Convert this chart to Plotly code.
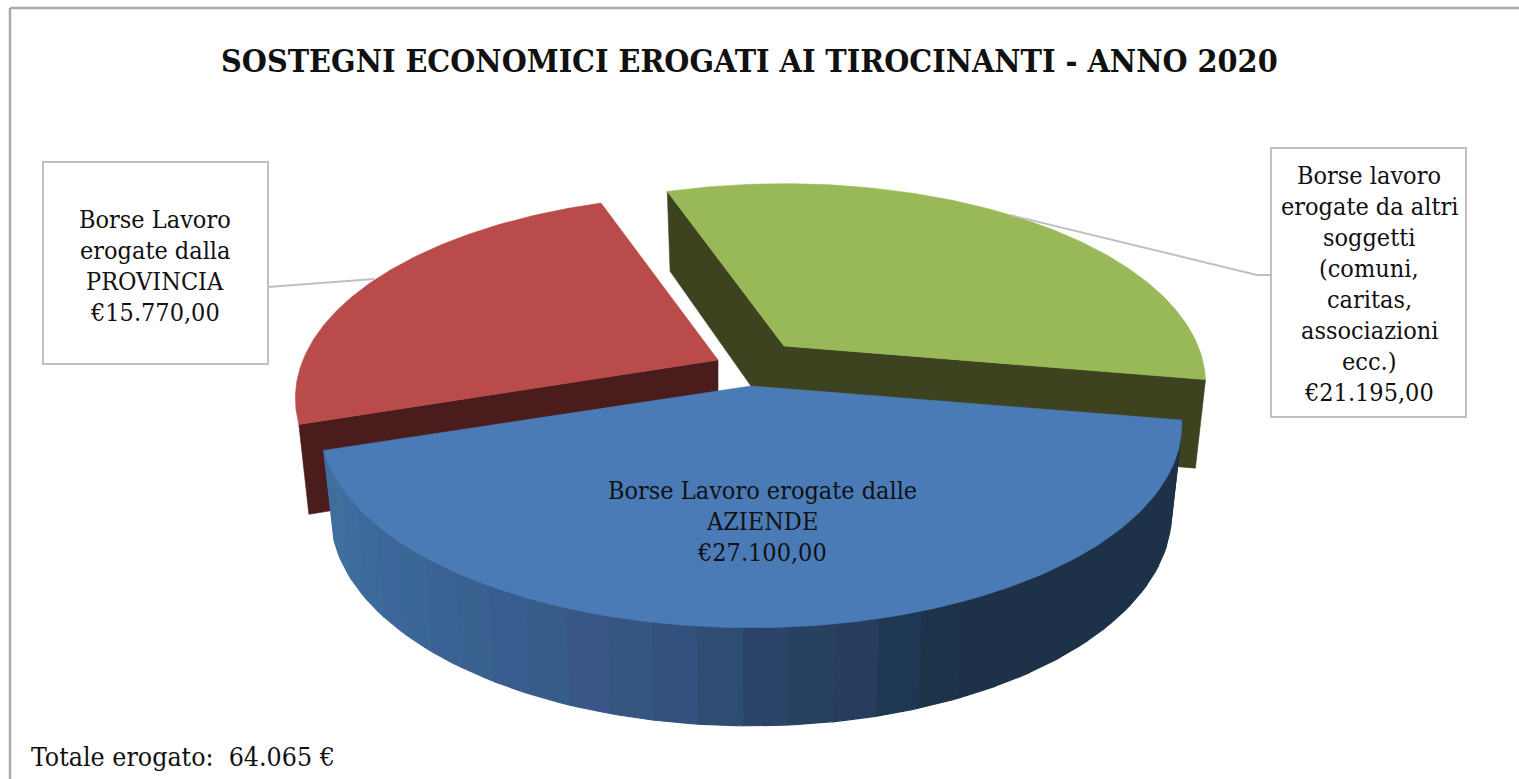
import numpy as np
import plotly.graph_objects as go

# data
categories = ['AZIENDE', 'PROVINCIA', 'altri soggetti']
values = [27100, 15770, 21195]
label_lines = [
    ['Borse Lavoro erogate dalle', 'AZIENDE'],
    ['Borse Lavoro', 'erogate dalla', 'PROVINCIA'],
    ['Borse lavoro', 'erogate da altri', 'soggetti', '(comuni,', 'caritas,',
     'associazioni', 'ecc.)'],
]
title_text = 'SOSTEGNI ECONOMICI EROGATI AI TIROCINANTI - ANNO 2020'
total_label = 'Totale erogato:'

top_colors = ['#4a7bb6', '#b94c4b', '#99b958']
cut_colors = ['#1d3248', '#4a1c1b', '#3c431e']

# side shading of the big slice, by screen x
shade_x = [320, 400, 500, 600, 700, 770, 850, 900, 950, 1200]
shade_rgb = [(64, 112, 160), (60, 103, 153), (56, 94, 142), (55, 88, 134),
             (49, 80, 122), (43, 68, 104), (38, 63, 94), (31, 57, 84),
             (29, 50, 72), (29, 50, 72)]

START_ANGLE = 9.7
PERSP = 0.189
SERIF = 'DejaVu Serif Condensed'
TEXT_SIZE = 25
LINE_GAP = 31


def euro(value):
    return '€' + f'{value:,.2f}'.replace(',', '#').replace('.', ',').replace('#', '.')


def rim(t_deg, cx, cy, rx, ry):
    t = np.radians(t_deg)
    px, py = np.cos(t), np.sin(t)
    s = 1 / (1 - PERSP * py)
    return cx + rx * px * s, cy + ry * py * s


def lower_rim(t_deg, cx, cy, rx, ry):
    return rim(t_deg, cx, cy + 87, rx * 0.976, ry + 9)


def poly(fig, xs, ys, color, width=0.6):
    fig.add_trace(go.Scatter(
        x=list(xs),
        y=list(ys),
        mode='lines',
        fill='toself',
        fillcolor=color,
        line=dict(color=color, width=width),
        hoverinfo='skip',
        showlegend=False
    ))


def wedge(fig, a0, a1, cx, cy, rx, ry, color):
    ts = np.linspace(a0, a1, 160)
    x, y = rim(ts, cx, cy, rx, ry)
    poly(fig, np.r_[cx, x, cx], np.r_[cy, y, cy], color)


def cut_face(fig, angle, cx, cy, rx, ry, color):
    x0, y0 = rim(angle, cx, cy, rx, ry)
    x1, y1 = lower_rim(angle, cx, cy, rx, ry)
    bx, by = cx, cy + 87
    poly(fig, [cx, x0, x1, bx, cx], [cy, y0, y1, by, cy], color)


spans = [v / sum(values) * 360 for v in values]
blue_a = (START_ANGLE, START_ANGLE + spans[0])
red_a = (blue_a[1], blue_a[1] + spans[1])
green_a = (red_a[1], red_a[1] + spans[2])

blue = (751, 386, 423, 196)
red = (718, 360, 415, 196)
green = (784, 346, 414, 193)

fig = go.Figure()

# green slice
cut_face(fig, green_a[0], *green, cut_colors[2])
cut_face(fig, green_a[1], *green, cut_colors[2])
wedge(fig, *green_a, *green, top_colors[2])

# red slice
cut_face(fig, red_a[0], *red, cut_colors[1])
wedge(fig, *red_a, *red, top_colors[1])

# blue slice: outer wall in bands, then the top
edges = np.linspace(blue_a[0], blue_a[1], 31)
for i in range(len(edges) - 1):
    ts = np.linspace(edges[i], edges[i + 1], 8)
    xt, yt = rim(ts, *blue)
    xb, yb = lower_rim(ts, *blue)
    mid = xt.mean()
    rgb = [np.interp(mid, shade_x, [c[k] for c in shade_rgb]) for k in range(3)]
    # the reference shows faint alternating bands
    if mid < 900:
        if i % 2 == 0:
            rgb = [rgb[0] - 1, rgb[1] + 1, rgb[2] - 1]
        else:
            rgb = [rgb[0] + 1, rgb[1] - 1, rgb[2] + 1]
    color = 'rgb(%d,%d,%d)' % tuple(rgb)
    poly(fig, np.r_[xt, xb[::-1], xt[0]], np.r_[yt, yb[::-1], yt[0]], color, width=1.2)
wedge(fig, *blue_a, *blue, top_colors[0])

grey = '#c0c0c0'
shapes = [
    # outer frame
    dict(type='line', x0=10, y0=8, x1=1519, y1=8, line=dict(color='#ababab', width=2.5)),
    dict(type='line', x0=10, y0=8, x1=10, y1=779, line=dict(color='#ababab', width=2.5)),
    # label boxes
    dict(type='rect', x0=43, y0=162, x1=268, y1=364, line=dict(color=grey, width=2)),
    dict(type='rect', x0=1271, y0=148, x1=1466, y1=417, line=dict(color=grey, width=2)),
    # leaders
    dict(type='path', path='M 268 287 L 374 279', line=dict(color=grey, width=2)),
    dict(type='path', path='M 1271 275 L 1257 275 L 1010 215', line=dict(color=grey, width=2)),
]

annotations = []


def add_text(x, y, text, size=TEXT_SIZE, anchor='center', bold=False):
    annotations.append(dict(
        x=x, y=y, xref='x', yref='y',
        text='<b>' + text + '</b>' if bold else text,
        showarrow=False,
        xanchor=anchor,
        yanchor='middle',
        font=dict(family=SERIF, size=size, color='#111111')
    ))


def add_block(x, y_first, lines):
    for n, line in enumerate(lines):
        add_text(x, y_first + n * LINE_GAP, line)


add_block(762, 490, label_lines[0] + [euro(values[0])])
add_block(155, 219, label_lines[1] + [euro(values[1])])
add_block(1369, 175, label_lines[2] + [euro(values[2])])

add_text(749, 61, title_text, size=32, bold=True)
total_text = f'{sum(values):,}'.replace(',', '.')
add_text(29, 756, total_label + '\u00a0\u00a0' + total_text + ' €', size=26.5, anchor='left')

fig.update_layout(
    width=1519,
    height=779,
    margin=dict(l=0, r=0, t=0, b=0),
    paper_bgcolor='white',
    plot_bgcolor='white',
    showlegend=False,
    shapes=shapes,
    annotations=annotations,
    xaxis=dict(range=[0, 1519], visible=False, fixedrange=True),
    yaxis=dict(range=[779, 0], visible=False, fixedrange=True)
)

fig.write_html(
    "out.html",
    config=dict(displayModeBar=False),
    post_script="document.body.style.margin='0';document.body.style.overflow='hidden';"
)
